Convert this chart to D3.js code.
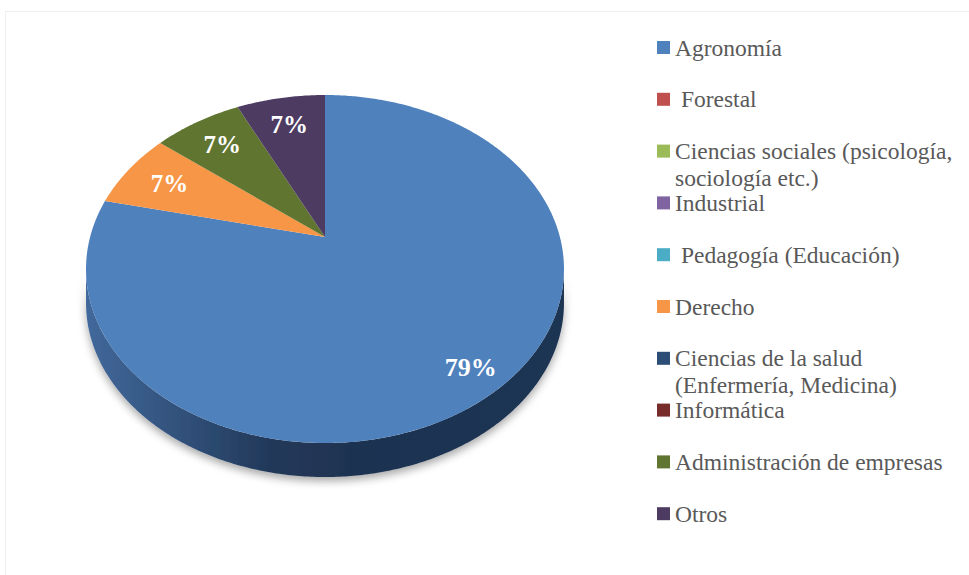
<!DOCTYPE html>
<html>
<head>
<meta charset="utf-8">
<script src="https://cdn.jsdelivr.net/npm/d3@7"></script>
<style>
  html, body { margin: 0; padding: 0; background: #ffffff; }
  svg { display: block; }
</style>
</head>
<body>
<script>
// ---- data ----
const categories = [
  "Agronomía",
  " Forestal",
  "Ciencias sociales (psicología, sociología etc.)",
  "Industrial",
  " Pedagogía (Educación)",
  "Derecho",
  "Ciencias de la salud (Enfermería, Medicina)",
  "Informática",
  "Administración de empresas",
  "Otros"
];
const counts = [11, 0, 0, 0, 0, 1, 0, 0, 1, 1];
const colors = [
  "#4f81bd", "#c0504d", "#9bbb59", "#8064a2", "#4bacc6",
  "#f79646", "#2c4d75", "#772c2a", "#5f7530", "#4d3b62"
];

// ---- layout ----
const W = 969, H = 575;
const svg = d3.select("body").append("svg").attr("width", W).attr("height", H);

svg.append("rect").attr("x", 5.5).attr("y", 11.5).attr("width", W).attr("height", H)
  .attr("fill", "#ffffff").attr("stroke", "#eeeeee").attr("stroke-width", 1);

const defs = svg.append("defs");
const grad = defs.append("linearGradient").attr("id", "sideGrad")
  .attr("gradientUnits", "userSpaceOnUse").attr("x1", 87).attr("x2", 565).attr("y1", 0).attr("y2", 0);
[["0%", "#41689b"], ["18%", "#33537d"], ["38%", "#22395a"], ["55%", "#1f3351"], ["100%", "#1f3453"]]
  .forEach(([o, c]) => grad.append("stop").attr("offset", o).attr("stop-color", c));
const shadow = defs.append("filter").attr("id", "shadow")
  .attr("x", "-10%").attr("y", "-10%").attr("width", "120%").attr("height", "140%");
shadow.append("feDropShadow").attr("dx", 0).attr("dy", 4).attr("stdDeviation", 4)
  .attr("flood-color", "#000").attr("flood-opacity", 0.35);

// perspective projection of the tilted disc
const cx = 325, cy = 237;   // projected centre of the pie
const A = 234.9, B = 168.1, k = 0.184;
const depth = 34;
function project(theta, r, dz) {
  const u = r * Math.sin(theta), v = -r * Math.cos(theta);
  const den = 1 - k * v;
  return [cx + A * u / den, cy + B * v / den + (dz || 0)];
}

const pie = d3.pie().sort(null).value(d => d).startAngle(0).endAngle(2 * Math.PI);
const arcs = pie(counts);
const total = d3.sum(counts);
const line = d3.line();

function arcPoints(a0, a1, dz) {
  const n = Math.max(2, Math.ceil((a1 - a0) / 0.01));
  return d3.range(n + 1).map(i => project(a0 + (a1 - a0) * i / n, 1, dz));
}

// visible front range of the side wall
const frontStart = Math.acos(-k), frontEnd = 2 * Math.PI - Math.acos(-k);

const sideG = svg.append("g").attr("filter", "url(#shadow)");
arcs.forEach((a, i) => {
  if (a.value === 0) return;
  const s = Math.max(a.startAngle, frontStart), e = Math.min(a.endAngle, frontEnd);
  if (e <= s) return;
  const top = arcPoints(s, e, 0);
  const bottom = arcPoints(s, e, depth).reverse();
  sideG.append("path").attr("d", line(top.concat(bottom)) + "Z")
    .attr("fill", i === 0 ? "url(#sideGrad)" : d3.color(colors[i]).darker(1.2));
});

// top faces
const topG = svg.append("g");
arcs.forEach((a, i) => {
  if (a.value === 0) return;
  const pts = [[cx, cy]].concat(arcPoints(a.startAngle, a.endAngle, 0));
  topG.append("path").attr("d", line(pts) + "Z").attr("fill", colors[i]);
});

// data labels
arcs.forEach((a, i) => {
  if (a.value === 0) return;
  const frac = a.value / total;
  const mid = (a.startAngle + a.endAngle) / 2;
  const r = frac > 0.5 ? 0.87 : 0.78;
  const [x, y] = project(mid, r, 0);
  svg.append("text").attr("x", x).attr("y", y)
    .attr("text-anchor", "middle").attr("dominant-baseline", "central")
    .attr("font-family", "'Liberation Serif', 'Times New Roman', serif")
    .attr("font-weight", "bold").attr("font-size", frac > 0.5 ? 26 : 25)
    .attr("fill", "#ffffff")
    .text(d3.format(".0%")(frac));
});

// legend
const legY0 = 47.5, legStep = 51.8, legX = 657, textX = 675, maxW = 292, lineH = 26.5;
const leg = svg.append("g")
  .attr("font-family", "'Liberation Serif', 'Times New Roman', serif")
  .attr("font-size", 23.5).attr("fill", "#595959");
categories.forEach((c, i) => {
  const yc = legY0 + i * legStep;
  leg.append("rect").attr("x", legX).attr("y", yc - 6.5).attr("width", 13).attr("height", 13)
    .attr("fill", colors[i]);
  const t = leg.append("text").attr("x", textX).attr("y", yc + 8).attr("xml:space", "preserve");
  const words = c.split(" ");
  let lineWords = [];
  let tspan = t.append("tspan").attr("x", textX).attr("y", yc + 8);
  let ln = 0;
  words.forEach((w, wi) => {
    lineWords.push(w);
    tspan.text(lineWords.join(" "));
    if (tspan.node().getComputedTextLength() > maxW && lineWords.length > 1) {
      lineWords.pop();
      tspan.text(lineWords.join(" "));
      lineWords = [w];
      ln++;
      tspan = t.append("tspan").attr("x", textX).attr("y", yc + 8 + ln * lineH).text(w);
    }
  });
});
</script>
</body>
</html>
